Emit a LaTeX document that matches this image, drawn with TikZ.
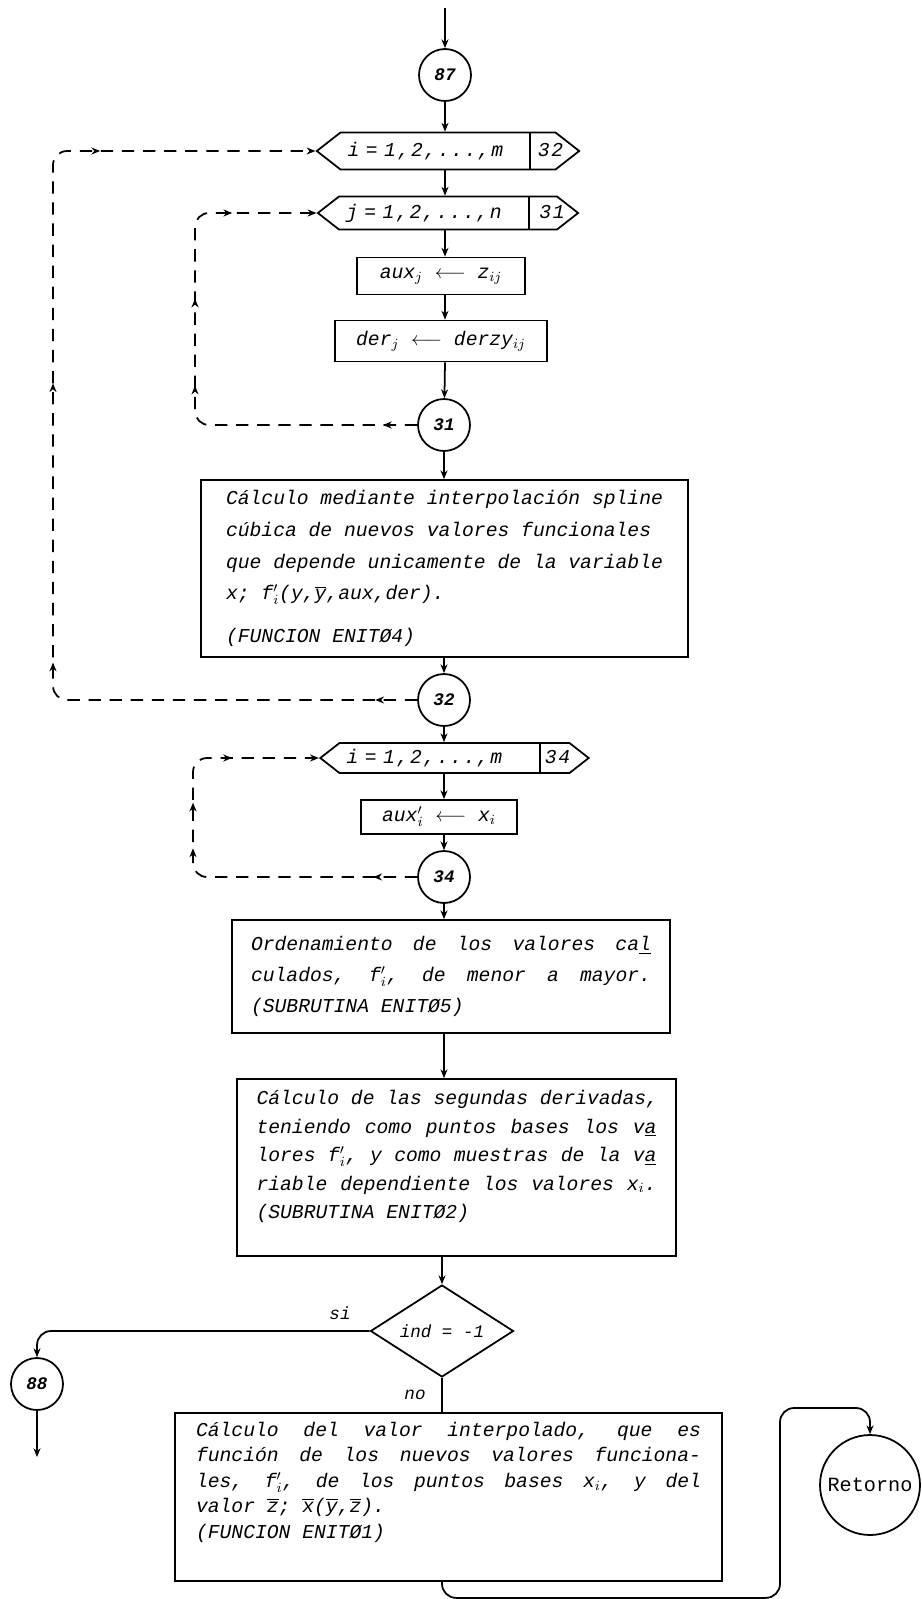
\documentclass[tikz,border=0pt]{standalone}
\usepackage{fontspec}
\setmonofont{Liberation Mono}
\usetikzlibrary{shapes.geometric,shapes.symbols,arrows.meta,decorations.markings}
\newcommand\spread[2]{\makebox[#1][s]{\spaceskip=0.6em plus 1fil\relax #2}}

\begin{document}
\begin{tikzpicture}[x=0.02cm, y=-0.02cm, line width=1pt,
  >={Stealth[length=5pt,width=4pt]},
  conn/.style={circle, draw, minimum size=1.04cm, inner sep=0pt, font=\ttfamily\itshape\bfseries},
  loopbox/.style={signal, signal to=west and east, signal pointer angle=76, draw, inner xsep=4pt, inner ysep=0pt,
    font=\ttfamily\itshape\fontsize{11.2}{14}\selectfont\addfontfeature{LetterSpace=8}},
  proc/.style={draw, inner sep=0pt, align=left, font=\ttfamily\itshape\fontsize{11.2}{#1}\selectfont},
  proc/.default=14,
  backloop/.style n args={4}{dash pattern=on 7pt off 5pt, ->, decoration={markings,
      mark=at position #1 with {\arrow{>}}, mark=at position #2 with {\arrow{>}},
      mark=at position #3 with {\arrow{>}}, mark=at position #4 with {\arrow{>}}},
    postaction={decorate}}]
\useasboundingbox (0,0) rectangle (922,1599);

% first loop block
\coordinate (in) at (445,8);
\node[conn] (c87) at (445,75) {87};
\node[loopbox, text width=4.02cm, minimum height=0.74cm] (l1) at (448,151) {i = 1,2,...,m\hfill\makebox[6pt][l]{32}};
\draw (l1.north -| 530,0) -- (l1.south -| 530,0);
\node[loopbox, text width=4.08cm, minimum height=0.66cm] (l2) at (448,213) {j = 1,2,...,n\hfill\makebox[6pt][l]{31}};
\draw (l2.north -| 529,0) -- (l2.south -| 529,0);
\node[proc, minimum width=3.36cm, minimum height=0.74cm] (auxj) at (441,276) {aux$_j$ $\longleftarrow$ z$_{ij}$};
\node[proc, minimum width=4.24cm, minimum height=0.82cm] (derj) at (441,341) {der$_j$ $\longleftarrow$ derzy$_{ij}$};
\node[conn] (c31) at (444,425) {31};
\node[proc=18, minimum width=9.74cm, minimum height=3.54cm] (b1) at (444.5,568.5)
  {Cálculo mediante interpolación spline\\
   cúbica de  nuevos valores funcionales\\
   que depende unicamente de la variable\\
   x; f$'_i$(y,$\overline{\mbox{y}}$,aux,der).\\[0.22cm]
   (FUNCION ENITØ4)};
\node[conn] (c32) at (444,700) {32};

% second loop block
\node[loopbox, text width=4.32cm, minimum height=0.6cm] (l3) at (454.5,758) {i = 1,2,...,m\hfill\makebox[10pt][l]{34}};
\draw (l3.north -| 540,0) -- (l3.south -| 540,0);
\node[proc, minimum width=3.12cm, minimum height=0.68cm] (auxi) at (439,817) {aux$'_i$ $\longleftarrow$ x$_i$};
\node[conn] (c34) at (444,877) {34};
\node[proc=17.5, minimum width=8.76cm, minimum height=2.26cm] (b2) at (451,976.5)
  {\spread{8cm}{Ordenamiento de los valores ca\underline{l}}\\
   \spread{8cm}{culados, f$'_i$, de menor a mayor.}\\
   (SUBRUTINA ENITØ5)};
\node[proc=16.2, minimum width=8.78cm, minimum height=3.54cm] (b3) at (456.5,1167.5)
  {\spread{8cm}{Cálculo de las segundas derivadas,}\\
   \spread{8cm}{teniendo como puntos bases los v\underline{a}}\\
   \spread{8cm}{lores f$'_i$, y como muestras de la v\underline{a}}\\
   \spread{8cm}{riable dependiente los valores x$_i$.}\\
   (SUBRUTINA ENITØ2)\\[-1.4pt]\mbox{}};

% decision
\node[diamond, draw, shape aspect=1.55, inner sep=0pt, minimum width=2.86cm, minimum height=1.84cm,
  font=\ttfamily\itshape] (d) at (442,1331) {ind = -1};
\node[font=\ttfamily\itshape] (si) at (340,1313) {si};
\node[font=\ttfamily\itshape] (no) at (415,1395) {no};
\node[conn] (c88) at (37,1384) {88};
\coordinate (out88) at (37,1457);
\node[proc=14.5, minimum width=10.94cm, minimum height=3.36cm] (b4) at (448.5,1497)
  {\spread{10.1cm}{Cálculo del valor interpolado, que es}\\
   \spread{10.1cm}{función de los nuevos valores funciona-}\\
   \spread{10.1cm}{les, f$'_i$, de los puntos bases x$_i$, y del}\\
   valor  $\overline{\mbox{z}}$; $\overline{\mbox{x}}$($\overline{\mbox{y}}$,$\overline{\mbox{z}}$).\\
   (FUNCION ENITØ1)\\[4.8pt]\mbox{}};
\node[circle, draw, minimum size=2cm, inner sep=0pt, font=\ttfamily\fontsize{11.5}{14}\selectfont] (ret) at (870,1485) {Retorno};

% main line
\draw[->] (in) -- (c87);
\draw[->] (c87) -- (c87 |- l1.north);
\draw[->] (l1.south -| c87) -- (l2.north -| c87);
\draw[->] (l2.south -| c87) -- (auxj.north -| c87);
\draw[->] (auxj.south -| c87) -- (derj.north -| c87);
\draw[->] (derj.south -| c87) -- (c31);
\draw[->] (c31) -- (c31 |- b1.north);
\draw[->] (b1.south -| c31) -- (c32);
\draw[->] (c32) -- (c32 |- l3.north);
\draw[->] (l3.south -| c32) -- (auxi.north -| c32);
\draw[->] (auxi.south -| c32) -- (c34);
\draw[->] (c34) -- (c34 |- b2.north);
\draw[->] (b2.south -| c34) -- (b3.north -| c34);
\draw[->] (b3.south -| d) -- (d);
\draw[->, rounded corners=8pt] (d.west) -| (c88);
\draw[->] (c88) -- (out88);
\draw (d) -- (d |- b4.north);
\draw[->, rounded corners=8pt] (b4.south -| d) -- ++(0,16) -| (780,1408) -| (ret);

% loops back
\draw[backloop={0.063}{0.47}{0.63}{0.845}, rounded corners=8pt] (c31) -| (195,213) -- (l2.west);
\draw[backloop={0.036}{0.34}{0.58}{0.815}, rounded corners=8pt] (c32) -| (53,151) -- (l1.west);
\draw[backloop={0.096}{0.54}{0.64}{0.81}, rounded corners=8pt] (c34) -| (193,758) -- (l3.west);
\end{tikzpicture}
\end{document}
